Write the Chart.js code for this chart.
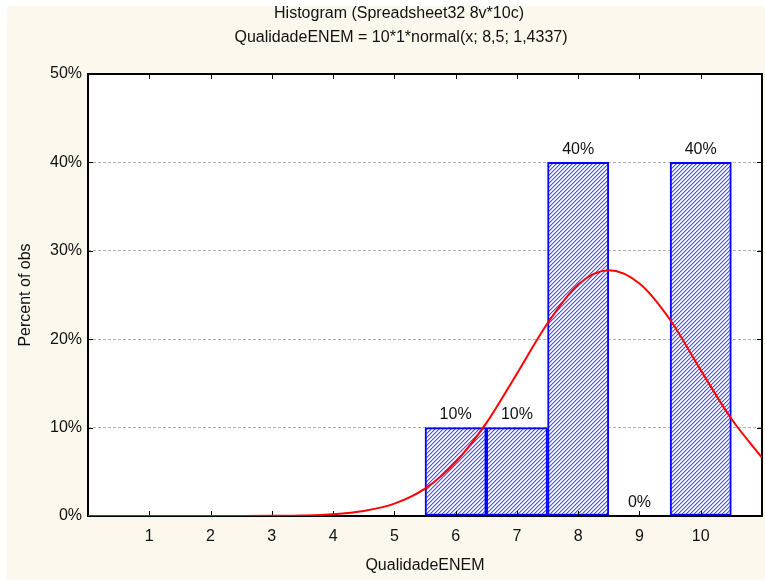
<!DOCTYPE html>
<html>
<head>
<meta charset="utf-8">
<script src="https://cdn.jsdelivr.net/npm/chart.js@4.4.0/dist/chart.umd.min.js"></script>
<style>
  html, body { margin: 0; padding: 0; background: #ffffff; }
  #wrap { width: 765px; height: 581px; position: relative; }
</style>
</head>
<body>
<div id="wrap"><canvas id="histo"></canvas></div>
<script>
// ── data ─────────────────────────────────────────────────────────────────────
const categories = [1, 2, 3, 4, 5, 6, 7, 8, 9, 10];
const percentObs = [0, 0, 0, 0, 0, 10, 10, 40, 0, 40];
const barLabels  = ['', '', '', '', '', '10%', '10%', '40%', '0%', '40%'];

// fitted normal curve, sampled every half unit
const curveX = [0, 0.5, 1, 1.5, 2, 2.5, 3, 3.5, 4, 4.5, 5, 5.5, 6, 6.5, 7, 7.5, 8, 8.5, 9, 9.5, 10, 10.5, 11];
const curveY = [0, 0, 0, 0, 0, 0, 0.02, 0.06, 0.2, 0.57, 1.4, 3.1, 6.1, 10.5, 16.1, 21.8, 26.2, 27.8, 26.3, 22.2, 16.5, 11.0, 6.6];

const yTicks = [0, 10, 20, 30, 40, 50];

const titleLines = ['Histogram (Spreadsheet32 8v*10c)', 'QualidadeENEM = 10*1*normal(x; 8,5; 1,4337)'];

const FONT = "'Liberation Sans', Arial, sans-serif";
const FSIZE = 16;
const TXT = '#111111';
const PAPER = '#fcf8ee';

// blue "/" hatch used for the bars (4px tile, soft edges on each stripe)
function makeHatch() {
    const shades = ['#b4b4ff', '#ffffff', '#e6e6ff', '#5050ff'];
    const c = document.createElement('canvas');
    c.width = 4; c.height = 4;
    const g = c.getContext('2d');
    for (let x = 0; x < 4; x++) {
        for (let y = 0; y < 4; y++) {
            g.fillStyle = shades[(x + y) % 4];
            g.fillRect(x, y, 1, 1);
        }
    }
    return g.createPattern(c, 'repeat');
}

// ── paper, titles, frame, inner ticks, bar labels ────────────────────────────
const histoDecor = {
    id: 'histoDecor',
    beforeDraw(chart) {
        const { ctx, chartArea: a } = chart;
        ctx.save();
        ctx.fillStyle = PAPER;
        ctx.fillRect(7, 6, chart.width - 7, chart.height - 7);
        ctx.fillStyle = '#ffffff';
        ctx.fillRect(a.left, a.top, a.right - a.left, a.bottom - a.top);

        ctx.fillStyle = TXT;
        ctx.font = FSIZE + 'px ' + FONT;
        ctx.textAlign = 'center';
        ctx.textBaseline = 'middle';
        ctx.fillText(titleLines[0], 399, 14);
        ctx.fillText(titleLines[1], 401, 38);
        ctx.restore();
    },
    afterDatasetDraw(chart, args) {
        if (args.meta.type !== 'bar') return;
        const { ctx, chartArea: a, scales } = chart;
        ctx.save();
        ctx.strokeStyle = '#000';
        ctx.lineWidth = 2;
        ctx.strokeRect(a.left, a.top, a.right - a.left, a.bottom - a.top);

        // tick marks pointing into the plot
        ctx.lineWidth = 1;
        ctx.beginPath();
        categories.forEach(v => {
            const x = Math.round(scales.x.getPixelForValue(v)) + 0.5;
            ctx.moveTo(x, a.bottom); ctx.lineTo(x, a.bottom - 5);
            ctx.moveTo(x, a.top); ctx.lineTo(x, a.top + 5);
        });
        yTicks.forEach(v => {
            const y = Math.round(scales.y.getPixelForValue(v)) + 0.5;
            ctx.moveTo(a.left, y); ctx.lineTo(a.left + 5, y);
            ctx.moveTo(a.right, y); ctx.lineTo(a.right - 5, y);
        });
        ctx.stroke();

        // value labels above bars
        ctx.fillStyle = TXT;
        ctx.font = FSIZE + 'px ' + FONT;
        ctx.textAlign = 'center';
        ctx.textBaseline = 'bottom';
        args.meta.data.forEach((bar, i) => {
            if (!barLabels[i]) return;
            ctx.fillText(barLabels[i], bar.x, bar.y - 5);
        });
        ctx.restore();
    }
};

const hatch = makeHatch();

new Chart(document.getElementById('histo'), {
    type: 'bar',
    data: {
        datasets: [
            {
                type: 'bar',
                order: 1,
                data: categories.map((c, i) => ({ x: c, y: percentObs[i] })),
                backgroundColor: hatch,
                borderColor: '#0000ff',
                borderWidth: ctx => (ctx.raw && ctx.raw.y > 0 ? 2 : 0),
                borderSkipped: false,
                barPercentage: 1,
                categoryPercentage: 1
            },
            {
                type: 'line',
                order: 0,
                data: curveX.map((x, i) => ({ x: x, y: curveY[i] })),
                borderColor: '#ff0000',
                borderWidth: 2,
                pointRadius: 0,
                cubicInterpolationMode: 'monotone',
                fill: false
            }
        ]
    },
    options: {
        responsive: true,
        maintainAspectRatio: false,
        animation: false,
        layout: { padding: { top: 74, right: 1, left: 0, bottom: 0 } },
        plugins: {
            legend: { display: false },
            tooltip: { enabled: false },
            title: { display: false }
        },
        scales: {
            x: {
                type: 'linear',
                offset: false,
                min: 0,
                max: 11,
                afterFit: s => { s.height = 65; },
                ticks: {
                    stepSize: 1,
                    autoSkip: false,
                    maxRotation: 0,
                    padding: 3,
                    color: TXT,
                    font: { family: FONT, size: FSIZE },
                    callback: v => (v >= 1 && v <= 10 ? v : '')
                },
                grid: { display: false },
                border: { display: false },
                title: {
                    display: true,
                    text: 'QualidadeENEM',
                    color: TXT,
                    font: { family: FONT, size: FSIZE },
                    padding: { top: 0, bottom: 6 }
                }
            },
            y: {
                min: 0,
                max: 50,
                afterFit: s => { s.width = 88; },
                ticks: {
                    stepSize: 10,
                    padding: 6,
                    color: TXT,
                    font: { family: FONT, size: FSIZE },
                    callback: v => v + '%'
                },
                grid: {
                    drawTicks: false,
                    color: ctx => (ctx.tick && ctx.tick.value > 0 && ctx.tick.value < 50 ? '#b0b0b0' : 'transparent')
                },
                border: { display: false, dash: [3, 2] },
                title: {
                    display: true,
                    text: 'Percent of obs',
                    color: TXT,
                    font: { family: FONT, size: FSIZE },
                    padding: { top: 16, bottom: 0 }
                }
            }
        }
    },
    plugins: [histoDecor]
});
</script>
</body>
</html>
